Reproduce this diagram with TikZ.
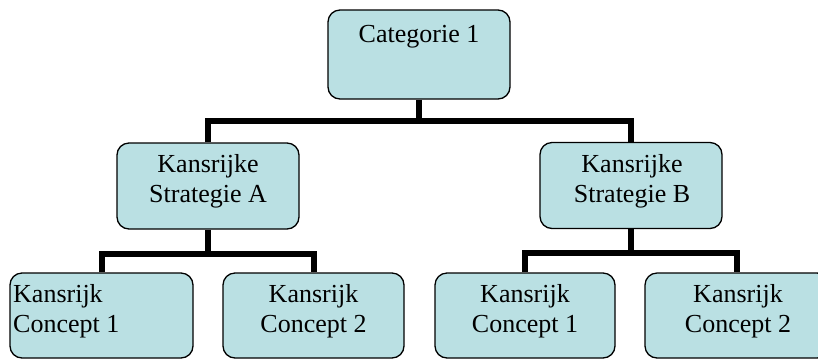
\documentclass[tikz,border=0pt]{standalone}
\usepackage{fontspec}
\setmainfont{Liberation Serif}
\definecolor{boxfill}{RGB}{186,224,227}
\tikzset{
  box/.style={draw=black, line width=1.3pt, fill=boxfill, rounded corners=12pt, inner sep=0pt},
  lbl/.style={font=\fontsize{26}{30}\selectfont, align=center, inner sep=0pt},
  conn/.style={line width=6pt, line join=miter, draw=black}
}
\begin{document}
\begin{tikzpicture}[x=1pt,y=-1pt]
\useasboundingbox (0,0) rectangle (818,360);
\begin{scope}
\clip (0,0) rectangle (818,360);
\node[box, minimum width=182pt, minimum height=89pt] (top) at (419,54.5) {};
\node[box, minimum width=182pt, minimum height=86pt] (A) at (208,186) {};
\node[box, minimum width=182pt, minimum height=86pt] (B) at (631,185.5) {};
\node[box, minimum width=183pt, minimum height=85pt] (C1) at (101.5,315.5) {};
\node[box, minimum width=181pt, minimum height=85pt] (C2) at (313.5,315.5) {};
\node[box, minimum width=180pt, minimum height=85pt] (C3) at (525,315.5) {};
\node[box, minimum width=184pt, minimum height=85pt] (C4) at (737,315.5) {};

\draw[conn] (top.south) -- ++(0,21) coordinate (j1);
\draw[conn] (A.north) |- (j1) -| (B.north);
\draw[conn] (A.south) -- ++(0,24) coordinate (j2);
\draw[conn] (C1.north) |- (j2) -| (C2.north);
\draw[conn] (B.south) -- ++(0,24) coordinate (j3);
\draw[conn] (C3.north) |- (j3) -| (C4.north);
\end{scope}

\node[lbl, anchor=base] (tl) at (419,42) {Categorie 1};
\node[lbl] (al) at (208,181.5) {Kansrijke\\Strategie A};
\node[lbl] (bl) at (632,181.5) {Kansrijke\\Strategie B};
\node[lbl, anchor=west, align=left] (c1l) at (13,311.5) {Kansrijk\\Concept 1};
\node[lbl] (c2l) at (313.5,311.5) {Kansrijk\\Concept 2};
\node[lbl] (c3l) at (525,311.5) {Kansrijk\\Concept 1};
\node[lbl] (c4l) at (738,311.5) {Kansrijk\\Concept 2};
\end{tikzpicture}
\end{document}
